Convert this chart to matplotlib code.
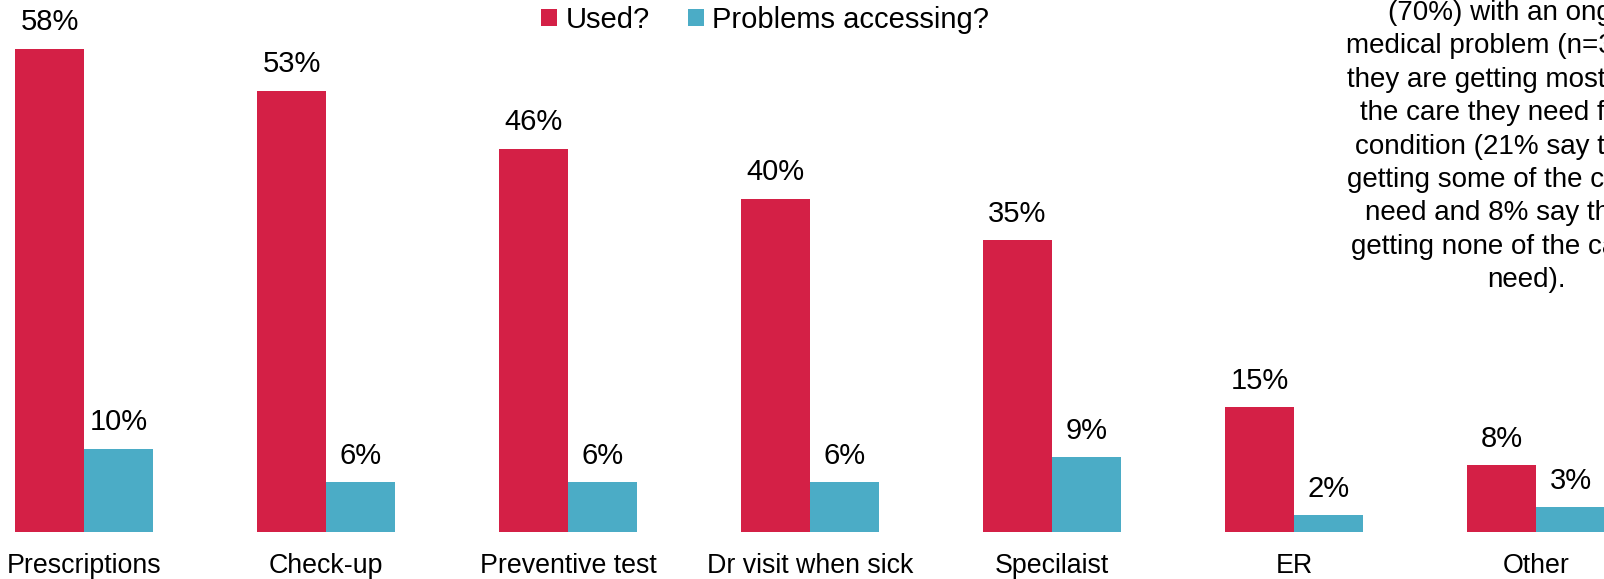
import matplotlib
matplotlib.use("Agg")
import matplotlib.pyplot as plt
import numpy as np

categories = ["Prescriptions", "Check-up", "Preventive test", "Dr visit when sick",
              "Specilaist", "ER", "Other"]
used = [58, 53, 46, 40, 35, 15, 8]
problems = [10, 6, 6, 6, 9, 2, 3]
series_names = ["Used?", "Problems accessing?"]

note_lines = [
    "(70%) with an ongoing",
    "medical problem (n=300) say",
    "they are getting most or all of",
    "the care they need for their",
    "condition (21% say they are",
    "getting some of the care they",
    "need and 8% say they are",
    "getting none of the care they",
    "need).",
]

RED = "#D42046"
BLUE = "#4BACC6"
FS = 21
TICK_FS = 19.3
NOTE_FS = 20

plt.rcParams["font.family"] = ["Liberation Sans", "DejaVu Sans"]
plt.rcParams["font.size"] = FS

W, H = 1604, 579
fig = plt.figure(figsize=(W / 100, H / 100), dpi=100)

base_px = 532          # baseline position from top
px_per_pct = 8.33
ax = fig.add_axes([0, (H - base_px) / H, 1, base_px / H])

group_px = 242.0
first_center_px = 84.0
bar_w = 69.0 / group_px

x = np.arange(len(categories))
b1 = ax.bar(x - bar_w / 2, used, width=bar_w, color=RED, label=series_names[0])
b2 = ax.bar(x + bar_w / 2, problems, width=bar_w, color=BLUE, label=series_names[1])

for rects, vals in ((b1, used), (b2, problems)):
    for r, v in zip(rects, vals):
        ax.annotate(f"{v}%", (r.get_x() + r.get_width() / 2, v),
                    xytext=(0, 9), textcoords="offset points",
                    ha="center", va="bottom", fontsize=FS, color="#000000")

ax.set_xlim(-first_center_px / group_px, (W - first_center_px) / group_px)
ax.set_ylim(0, base_px / px_per_pct)
ax.set_xticks(x)
ax.set_xticklabels(categories, fontsize=TICK_FS)
ax.tick_params(axis="x", length=0, pad=15)
ax.set_yticks([])
for s in ax.spines.values():
    s.set_visible(False)

fig.legend(handles=[b1, b2], loc="upper center", bbox_to_anchor=(765 / W, 1.035),
           ncol=2, frameon=False, fontsize=FS, handlelength=0.55,
           handleheight=0.55, handletextpad=0.3, columnspacing=1.3)

# side note, one line per row, centred on a common axis
note_x = 1526 / W
line_step = 33.4
for i, line in enumerate(note_lines):
    y_px = 13 + i * line_step
    fig.text(note_x, 1 - y_px / H, line, ha="center", va="center", fontsize=NOTE_FS)

fig.savefig("out.png", dpi=100)
